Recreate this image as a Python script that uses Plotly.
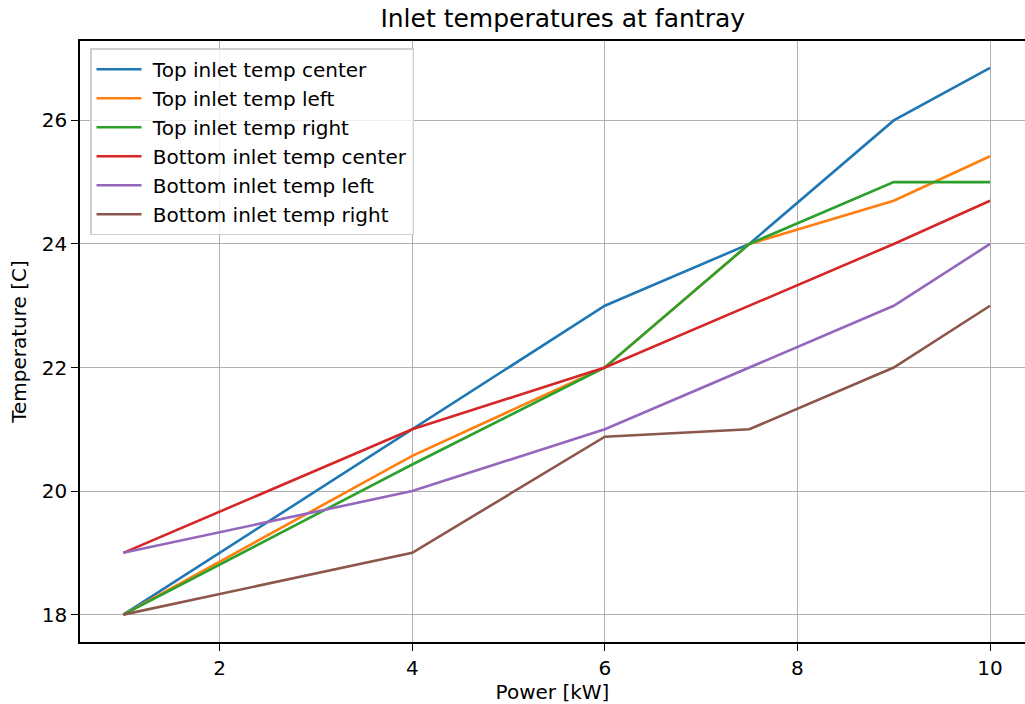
import plotly.graph_objects as go

power = [1, 4, 6, 7.5, 9, 10]
top_center = [18, 21, 23, 24, 26, 26.85]
top_left = [18, 20.57, 22, 24, 24.7, 25.42]
top_right = [18, 20.43, 22, 24, 25, 25]
bottom_center = [19, 21, 22, 23, 24, 24.7]
bottom_left = [19, 20, 21, 22, 23, 24]
bottom_right = [18, 19, 20.88, 21, 22, 23]

names = ["Top inlet temp center", "Top inlet temp left", "Top inlet temp right",
         "Bottom inlet temp center", "Bottom inlet temp left", "Bottom inlet temp right"]
series = [top_center, top_left, top_right, bottom_center, bottom_left, bottom_right]
colors = ["#1f77b4", "#ff7f0e", "#2ca02c", "#d62728", "#9467bd", "#8c564b"]

fig = go.Figure()
for n, s, c in zip(names, series, colors):
    fig.add_trace(go.Scatter(x=power, y=s, mode="lines", name=" " + n,
                             line=dict(color=c, width=2.6)))

font = "DejaVu Sans, sans-serif"
fig.update_layout(
    width=1025, height=704,
    margin=dict(l=80, r=0, t=41, b=62),
    paper_bgcolor="white", plot_bgcolor="white",
    font=dict(family=font, size=20, color="black"),
    title=dict(text="Inlet temperatures at fantray", x=0.549, xref="container",
               xanchor="center", y=1 - 18 / 704, yref="container", yanchor="middle",
               font=dict(size=25)),
    legend=dict(x=0.0106, y=0.988, xanchor="left", yanchor="top",
                bgcolor="rgba(255,255,255,0.8)", bordercolor="#d0d0d0", borderwidth=1.5,
                font=dict(size=20), itemwidth=45, tracegroupgap=0),
    showlegend=True,
)
fig.update_xaxes(range=[0.55, 10.363], tickvals=[2, 4, 6, 8, 10],
                 showgrid=True, gridcolor="#b0b0b0", gridwidth=1.2,
                 showline=True, linecolor="black", linewidth=1.6, mirror=True,
                 ticks="outside", ticklen=7, tickwidth=1.4, tickcolor="black", zeroline=False,
                 title=dict(text="Power [kW]", standoff=8, font=dict(size=20)))
fig.update_yaxes(range=[17.557, 27.285], tickvals=[18, 20, 22, 24, 26],
                 showgrid=True, gridcolor="#b0b0b0", gridwidth=1.2,
                 showline=True, linecolor="black", linewidth=1.6, mirror=False,
                 ticks="outside", ticklen=7, tickwidth=1.4, tickcolor="black", zeroline=False,
                 title=dict(text="Temperature [C]", standoff=10, font=dict(size=20)))

fig.write_html("out.html")
